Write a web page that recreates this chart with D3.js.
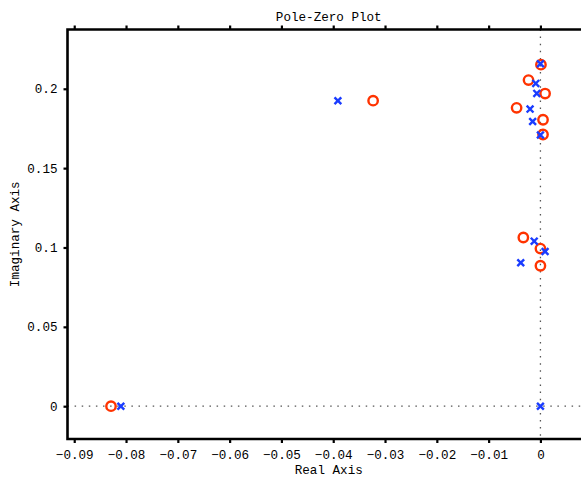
<!DOCTYPE html>
<html>
<head>
<meta charset="utf-8">
<script src="https://cdn.jsdelivr.net/npm/d3@7"></script>
<style>
  html, body { margin: 0; padding: 0; background: #fff; }
  svg text { font-family: "Liberation Mono", "Courier New", monospace; font-size: 12.6px; fill: #000; }
</style>
</head>
<body>
<svg id="chart" width="581" height="477"></svg>
<script>
// Poles (drawn as x) and zeros (drawn as o): real and imaginary parts
const poleRe = [-0.0810, 0.0000, -0.0391, 0.0000, -0.0009, -0.0007, -0.0020, -0.0015, 0.0000, -0.0012, 0.0009, -0.0038];
const poleIm = [0.0000, 0.0000, 0.1925, 0.2158, 0.2034, 0.1971, 0.1872, 0.1794, 0.1709, 0.1040, 0.0975, 0.0904];
const zeroRe = [-0.0829, -0.0323, 0.0001, -0.0023, 0.0009, -0.0046, 0.0005, 0.0005, -0.0033, 0.0000, 0.0000];
const zeroIm = [0.0000, 0.1925, 0.2152, 0.2055, 0.1970, 0.1880, 0.1805, 0.1712, 0.1063, 0.0993, 0.0885];

const xTicks = [-0.09, -0.08, -0.07, -0.06, -0.05, -0.04, -0.03, -0.02, -0.01, 0];
const xTickLabels = ["-0.09", "-0.08", "-0.07", "-0.06", "-0.05", "-0.04", "-0.03", "-0.02", "-0.01", "0"];
const yTicks = [0, 0.05, 0.1, 0.15, 0.2];
const yTickLabels = ["0", "0.05", "0.1", "0.15", "0.2"];

const svg = d3.select("#chart");
const plotL = 67.5, plotR = 590, plotT = 29.5, plotB = 439;

const x = d3.scaleLinear().domain([-0.0913, 0.00957]).range([plotL, plotR]);
const y = d3.scaleLinear().domain([-0.02067, 0.23735]).range([plotB, plotT]);

// Dotted reference lines through the origin
svg.append("line")
  .attr("x1", plotL).attr("x2", plotR)
  .attr("y1", y(0)).attr("y2", y(0))
  .attr("stroke", "#555").attr("stroke-width", 1.3)
  .attr("stroke-dasharray", "1.5,5.6");
svg.append("line")
  .attr("x1", x(0)).attr("x2", x(0))
  .attr("y1", plotT).attr("y2", plotB)
  .attr("stroke", "#555").attr("stroke-width", 1.3)
  .attr("stroke-dasharray", "1.5,5.6");

// Bottom axis
const xAxisB = d3.axisBottom(x).tickValues(xTicks)
  .tickFormat((d, i) => xTickLabels[i].replace("-", "\u2212"))
  .tickSize(4).tickPadding(7).tickSizeOuter(0);
const gB = svg.append("g").attr("transform", `translate(0,${plotB})`).call(xAxisB);
gB.select(".domain").remove();
gB.selectAll(".tick line").attr("stroke", "#000").attr("stroke-width", 2.2);
gB.attr("font-size", null).attr("font-family", null);

// Top axis (ticks only)
const xAxisT = d3.axisTop(x).tickValues(xTicks).tickFormat("").tickSize(4).tickSizeOuter(0);
const gT = svg.append("g").attr("transform", `translate(0,${plotT})`).call(xAxisT);
gT.select(".domain").remove();
gT.selectAll(".tick line").attr("stroke", "#000").attr("stroke-width", 2.2);

// Left axis
const yAxisL = d3.axisLeft(y).tickValues(yTicks)
  .tickFormat((d, i) => yTickLabels[i])
  .tickSize(4).tickPadding(6).tickSizeOuter(0);
const gL = svg.append("g").attr("transform", `translate(${plotL},0)`).call(yAxisL);
gL.select(".domain").remove();
gL.selectAll(".tick line").attr("stroke", "#000").attr("stroke-width", 2.2);
gL.attr("font-size", null).attr("font-family", null);

// Plot frame
svg.append("path")
  .attr("d", `M${plotR},${plotT}H${plotL}V${plotB}H${plotR}`)
  .attr("fill", "none").attr("stroke", "#000").attr("stroke-width", 2.6);

// Zeros
svg.append("g").selectAll("circle")
  .data(zeroRe.map((r, i) => [r, zeroIm[i]]))
  .join("circle")
  .attr("cx", d => x(d[0])).attr("cy", d => y(d[1]))
  .attr("r", 4.7)
  .attr("fill", "none").attr("stroke", "#ff3300").attr("stroke-width", 2.4);

// Poles
const s = 3.4;
svg.append("g").selectAll("path")
  .data(poleRe.map((r, i) => [r, poleIm[i]]))
  .join("path")
  .attr("d", d => {
    const cx = x(d[0]), cy = y(d[1]);
    return `M${cx - s},${cy - s}L${cx + s},${cy + s}M${cx - s},${cy + s}L${cx + s},${cy - s}`;
  })
  .attr("fill", "none").attr("stroke", "#1a3cff").attr("stroke-width", 2.4);

// Titles
svg.append("text").attr("x", (plotL + plotR) / 2).attr("y", 21)
  .attr("text-anchor", "middle").text("Pole-Zero Plot");
svg.append("text").attr("x", (plotL + plotR) / 2).attr("y", 474)
  .attr("text-anchor", "middle").text("Real Axis");
svg.append("text")
  .attr("transform", `translate(19,${(plotT + plotB) / 2}) rotate(-90)`)
  .attr("text-anchor", "middle").text("Imaginary Axis");
</script>
</body>
</html>
